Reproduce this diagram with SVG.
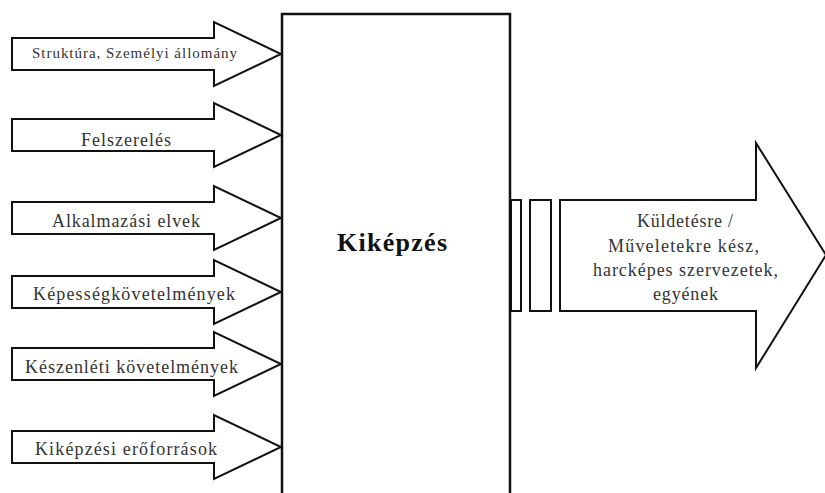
<svg xmlns="http://www.w3.org/2000/svg" width="825" height="493" viewBox="0 0 825 493">
<style>
.arr{fill:#fff;stroke:#111;stroke-width:2;stroke-linejoin:miter}
.box{fill:#fff;stroke:#111;stroke-width:2.5}
.lbl{font-family:"Liberation Serif","Times New Roman",serif;font-size:18px;fill:#333;text-anchor:start}
.title{font-family:"Liberation Serif","Times New Roman",serif;font-size:26px;font-weight:bold;fill:#111}
.out{font-family:"Liberation Serif","Times New Roman",serif;font-size:18px;fill:#333}
</style>
<rect width="825" height="493" fill="#fff"/>
<g id="connectors">
<g id="in1"><polygon class="arr" points="12,38 214,38 214,22 281,54 214,86 214,70 12,70"/></g>
<g id="in2"><polygon class="arr" points="12,119 214,119 214,103 281,135 214,167 214,151 12,151"/></g>
<g id="in3"><polygon class="arr" points="12,202 214,202 214,186 281,218 214,250 214,234 12,234"/></g>
<g id="in4"><polygon class="arr" points="12,276 214,276 214,260 281,292 214,324 214,308 12,308"/></g>
<g id="in5"><polygon class="arr" points="12,348 214,348 214,332 281,364 214,396 214,380 12,380"/></g>
<g id="in6"><polygon class="arr" points="12,431 214,431 214,415 281,447 214,479 214,463 12,463"/></g>
<g id="out"><rect class="arr" x="511" y="200" width="10" height="111"/><rect class="arr" x="530" y="200" width="21" height="111"/><polygon class="arr" points="560,200 756,200 756,143 826,255 756,368 756,311 560,311"/></g>
</g>
<g id="node-kikepzes">
<rect class="box" x="282" y="14" width="228" height="495"/>
<text class="title" x="337" y="251" textLength="110" lengthAdjust="spacing">Kiképzés</text>
</g>
<g id="labels">
<text class="lbl" style="font-size:15px" x="32" y="58" textLength="205" lengthAdjust="spacing">Struktúra, Személyi állomány</text>
<text class="lbl" x="81" y="146" textLength="90" lengthAdjust="spacing">Felszerelés</text>
<text class="lbl" x="52" y="227" textLength="148" lengthAdjust="spacing">Alkalmazási elvek</text>
<text class="lbl" x="33" y="300" textLength="202" lengthAdjust="spacing">Képességkövetelmények</text>
<text class="lbl" x="25" y="373" textLength="213" lengthAdjust="spacing">Készenléti követelmények</text>
<text class="lbl" x="35" y="455" textLength="182" lengthAdjust="spacing">Kiképzési erőforrások</text>
</g>
<g id="out-label">
<text class="out" x="637" y="227" textLength="96" lengthAdjust="spacing">Küldetésre /</text>
<text class="out" x="608" y="252" textLength="151" lengthAdjust="spacing">Műveletekre kész,</text>
<text class="out" x="593" y="276" textLength="185" lengthAdjust="spacing">harcképes szervezetek,</text>
<text class="out" x="653" y="300" textLength="65" lengthAdjust="spacing">egyének</text>
</g>
</svg>
